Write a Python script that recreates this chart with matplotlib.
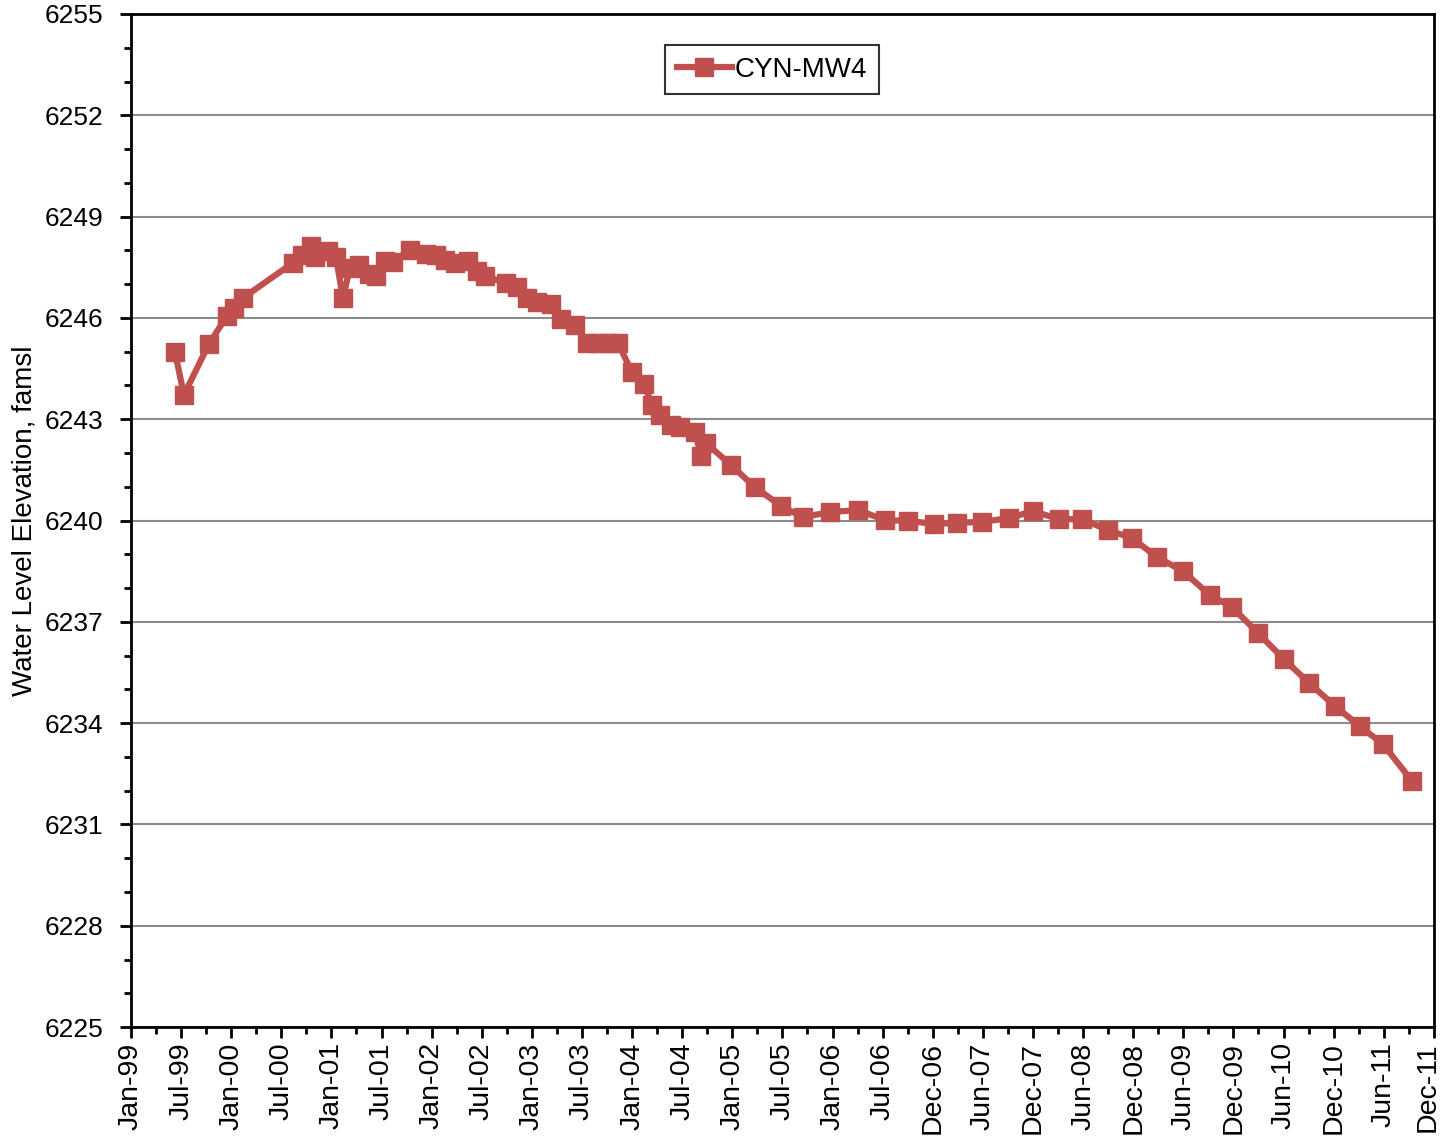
import matplotlib
matplotlib.use("Agg")
import matplotlib.pyplot as plt
import matplotlib.dates as mdates
import matplotlib.transforms as mtransforms
import numpy as np
from matplotlib.ticker import MultipleLocator, FixedLocator

plt.rcParams['font.family'] = ['Liberation Sans', 'DejaVu Sans']

# water level readings for CYN-MW4 (feet above mean sea level)
dates = ["1999-06-10", "1999-07-13", "1999-10-12", "1999-12-17", "2000-01-11",
         "2000-02-13", "2000-08-13", "2000-09-15", "2000-10-18", "2000-11-01",
         "2000-12-19", "2001-01-17", "2001-02-11", "2001-03-09", "2001-04-11",
         "2001-05-17", "2001-06-12", "2001-07-14", "2001-08-12", "2001-10-13",
         "2001-12-11", "2002-01-16", "2002-02-18", "2002-03-26", "2002-05-13",
         "2002-06-14", "2002-07-14", "2002-09-28", "2002-11-07", "2002-12-14",
         "2003-01-19", "2003-03-11", "2003-04-17", "2003-06-07", "2003-07-20",
         "2003-08-29", "2003-10-05", "2003-11-10", "2003-12-31", "2004-02-13",
         "2004-03-13", "2004-04-11", "2004-05-21", "2004-06-23", "2004-08-17",
         "2004-09-08", "2004-09-26", "2004-12-26", "2005-03-23", "2005-06-26",
         "2005-09-14", "2005-12-22", "2006-04-03", "2006-07-10", "2006-10-02",
         "2007-01-04", "2007-03-29", "2007-06-28", "2007-10-05", "2007-12-31",
         "2008-04-04", "2008-06-27", "2008-09-29", "2008-12-26", "2009-03-27",
         "2009-06-30", "2009-10-06", "2009-12-25", "2010-03-30", "2010-07-02",
         "2010-10-02", "2011-01-04", "2011-04-05", "2011-06-28", "2011-10-12"]
levels = [6245.00, 6243.72, 6245.23, 6246.06, 6246.29,
          6246.59, 6247.63, 6247.86, 6248.13, 6247.80,
          6247.98, 6247.80, 6246.59, 6247.48, 6247.57,
          6247.30, 6247.24, 6247.69, 6247.66, 6248.01,
          6247.89, 6247.86, 6247.71, 6247.63, 6247.69,
          6247.39, 6247.24, 6247.03, 6246.92, 6246.59,
          6246.47, 6246.41, 6245.97, 6245.79, 6245.26,
          6245.26, 6245.26, 6245.26, 6244.40, 6244.04,
          6243.42, 6243.12, 6242.83, 6242.77, 6242.62,
          6241.91, 6242.30, 6241.64, 6240.99, 6240.43,
          6240.10, 6240.25, 6240.31, 6240.01, 6239.99,
          6239.90, 6239.93, 6239.96, 6240.07, 6240.28,
          6240.04, 6240.04, 6239.72, 6239.48, 6238.92,
          6238.50, 6237.79, 6237.44, 6236.67, 6235.90,
          6235.19, 6234.51, 6233.91, 6233.38, 6232.29]

tick_labels = ["Jan-99", "Jul-99", "Jan-00", "Jul-00", "Jan-01", "Jul-01",
               "Jan-02", "Jul-02", "Jan-03", "Jul-03", "Jan-04", "Jul-04",
               "Jan-05", "Jul-05", "Jan-06", "Jul-06", "Dec-06", "Jun-07",
               "Dec-07", "Jun-08", "Dec-08", "Jun-09", "Dec-09", "Jun-10",
               "Dec-10", "Jun-11", "Dec-11"]

red = '#C0504D'

x = mdates.datestr2num(dates)
xmin = mdates.datestr2num("1999-01-01")
xmax = mdates.datestr2num("2011-12-31")

fig = plt.figure(figsize=(14.44, 11.37), dpi=100)
ax = fig.add_axes([0.0907, 0.0967, 0.9023, 0.891])

ax.plot(x, levels, color=red, lw=4.5, marker='s', ms=13, mec=red, mfc=red,
        label='CYN-MW4', zorder=3)

ax.set_xlim(xmin, xmax)
ax.set_ylim(6225, 6255)

major = np.linspace(xmin, xmax, len(tick_labels))
ax.xaxis.set_major_locator(FixedLocator(major))
ax.xaxis.set_minor_locator(FixedLocator((major[:-1] + major[1:]) / 2))
ax.set_xticklabels(tick_labels, rotation=90)

ax.yaxis.set_major_locator(MultipleLocator(3))
ax.yaxis.set_minor_locator(MultipleLocator(1))
ax.tick_params(axis='y', labelsize=19, pad=12)
ax.tick_params(axis='x', labelsize=20.5, pad=3)
ax.tick_params(which='major', direction='out', length=8, width=2)
ax.tick_params(which='minor', direction='out', length=5, width=2)

# nudge the last date label so it stays inside the figure
last = ax.get_xticklabels()[-1]
last.set_transform(last.get_transform() +
                   mtransforms.ScaledTranslation(-6 / 100, 0, fig.dpi_scale_trans))

ax.grid(axis='y', which='major', color='#8c8c8c', lw=1.5, zorder=0)
for s in ax.spines.values():
    s.set_linewidth(2)
    s.set_color('black')

ax.set_ylabel('Water Level Elevation, famsl', fontsize=20, labelpad=5)

leg = ax.legend(loc='upper center', bbox_to_anchor=(0.492, 0.969), fontsize=20,
                frameon=True, fancybox=False, handlelength=2.0,
                borderpad=0.4, handletextpad=0.1, borderaxespad=0)
leg.get_frame().set_edgecolor('black')
leg.get_frame().set_linewidth(1.5)

fig.savefig('out.png', dpi=100)
